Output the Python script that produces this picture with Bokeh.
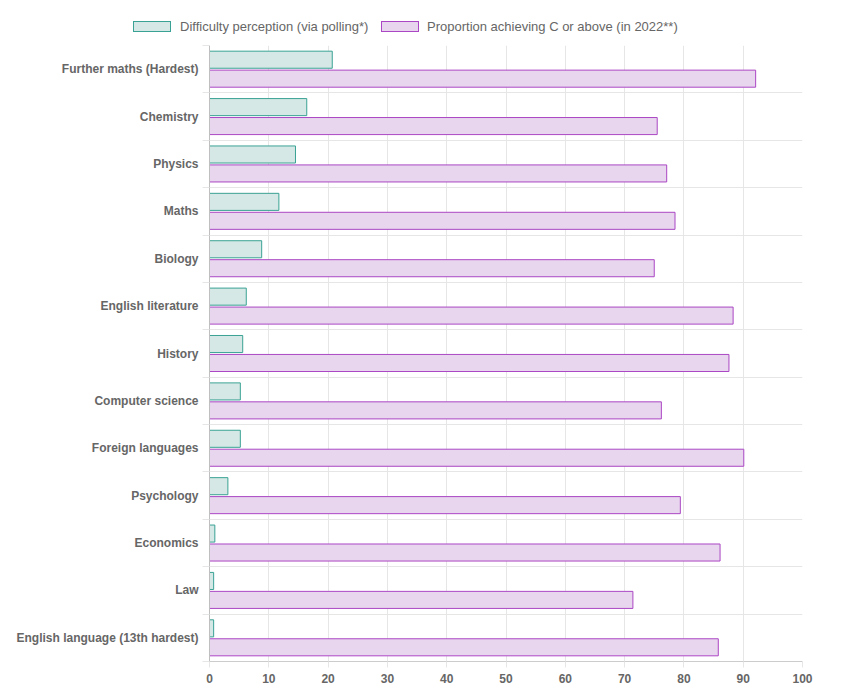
from bokeh.plotting import figure
from bokeh.layouts import column
from bokeh.models import Range1d, FixedTicker, ColumnDataSource, Div
from bokeh.embed import file_html
from bokeh.resources import INLINE

categories = ["Further maths (Hardest)", "Chemistry", "Physics", "Maths", "Biology",
              "English literature", "History", "Computer science", "Foreign languages",
              "Psychology", "Economics", "Law", "English language (13th hardest)"]
difficulty = [20.7, 16.4, 14.5, 11.7, 8.8, 6.2, 5.6, 5.2, 5.2, 3.1, 0.9, 0.7, 0.7]
proportion = [92.1, 75.5, 77.1, 78.5, 75.0, 88.3, 87.6, 76.2, 90.1, 79.4, 86.1, 71.4, 85.8]
x_ticks = [0, 10, 20, 30, 40, 50, 60, 70, 80, 90, 100]
series_names = ["Difficulty perception (via polling*)", "Proportion achieving C or above (in 2022**)"]

N = len(categories)
ypos = [N - 1 - i for i in range(N)]
src = ColumnDataSource(dict(
    y1=[y + 0.2 for y in ypos], y2=[y - 0.2 for y in ypos],
    d=difficulty, p=proportion))

FONT = "Liberation Sans"
TXT = "#666666"
GRID = "#e6e6e6"
FILL1, LINE1 = "#d5e8e5", "#3aa294"
FILL2, LINE2 = "#e8d5ee", "#ab47c4"

# ---- legend strip (HTML text) ----
def box(left, fill, line):
    return (f'<span style="position:absolute;left:{left}px;top:21px;width:38px;height:11px;'
            f'background:{fill};border:1px solid {line};"></span>')

def lab(left, text):
    return (f'<span style="position:absolute;left:{left}px;top:19px;line-height:15px;'
            f'white-space:nowrap;">{text}</span>')

legend_html = (f'<div style="position:relative;width:837px;height:45px;font-family:\'{FONT}\';'
               f'font-size:13px;color:{TXT};">'
               + box(133, FILL1, LINE1) + lab(180, series_names[0])
               + box(381, FILL2, LINE2) + lab(427, series_names[1]) + '</div>')
lg = Div(text=legend_html, width=837, height=45, margin=0)

# ---- main chart ----
p = figure(width=837, height=643, output_backend="svg", toolbar_location=None,
           x_range=Range1d(0, 100), y_range=Range1d(-0.5, N - 0.5),
           min_border_left=209, min_border_right=35, min_border_top=0, min_border_bottom=27,
           margin=0)
p.outline_line_color = None

p.hbar(y="y1", right="d", left=0, height=0.36, source=src,
       fill_color=FILL1, line_color=LINE1, line_width=1)
p.hbar(y="y2", right="p", left=0, height=0.36, source=src,
       fill_color=FILL2, line_color=LINE2, line_width=1)

p.xaxis.ticker = FixedTicker(ticks=x_ticks)
p.xaxis.axis_line_color = "#cccccc"
p.xaxis.major_tick_line_color = GRID
p.xaxis.major_tick_out = 6
p.xaxis.major_tick_in = 0
p.xaxis.minor_tick_line_color = None
p.xaxis.major_label_standoff = 6
p.xaxis.major_label_text_font = FONT
p.xaxis.major_label_text_font_size = "12px"
p.xaxis.major_label_text_font_style = "bold"
p.xaxis.major_label_text_color = TXT
p.xgrid.ticker = FixedTicker(ticks=x_ticks)
p.xgrid.grid_line_color = GRID

yt = FixedTicker(ticks=ypos, minor_ticks=[i - 0.5 for i in range(N + 1)])
p.yaxis.ticker = yt
p.yaxis.major_label_overrides = {ypos[i]: categories[i] for i in range(N)}
p.yaxis.axis_line_color = "#bfbfbf"
p.yaxis.major_tick_line_color = None
p.yaxis.major_tick_out = 0
p.yaxis.major_tick_in = 0
p.yaxis.minor_tick_line_color = GRID
p.yaxis.minor_tick_out = 7
p.yaxis.minor_tick_in = 0
p.yaxis.major_label_standoff = 4
p.yaxis.major_label_text_font = FONT
p.yaxis.major_label_text_font_size = "12px"
p.yaxis.major_label_text_font_style = "bold"
p.yaxis.major_label_text_color = TXT
p.ygrid.ticker = yt
p.ygrid.grid_line_color = None
p.ygrid.minor_grid_line_color = GRID

layout = column(lg, p, spacing=0)
open("out.html", "w").write(file_html(layout, INLINE))
